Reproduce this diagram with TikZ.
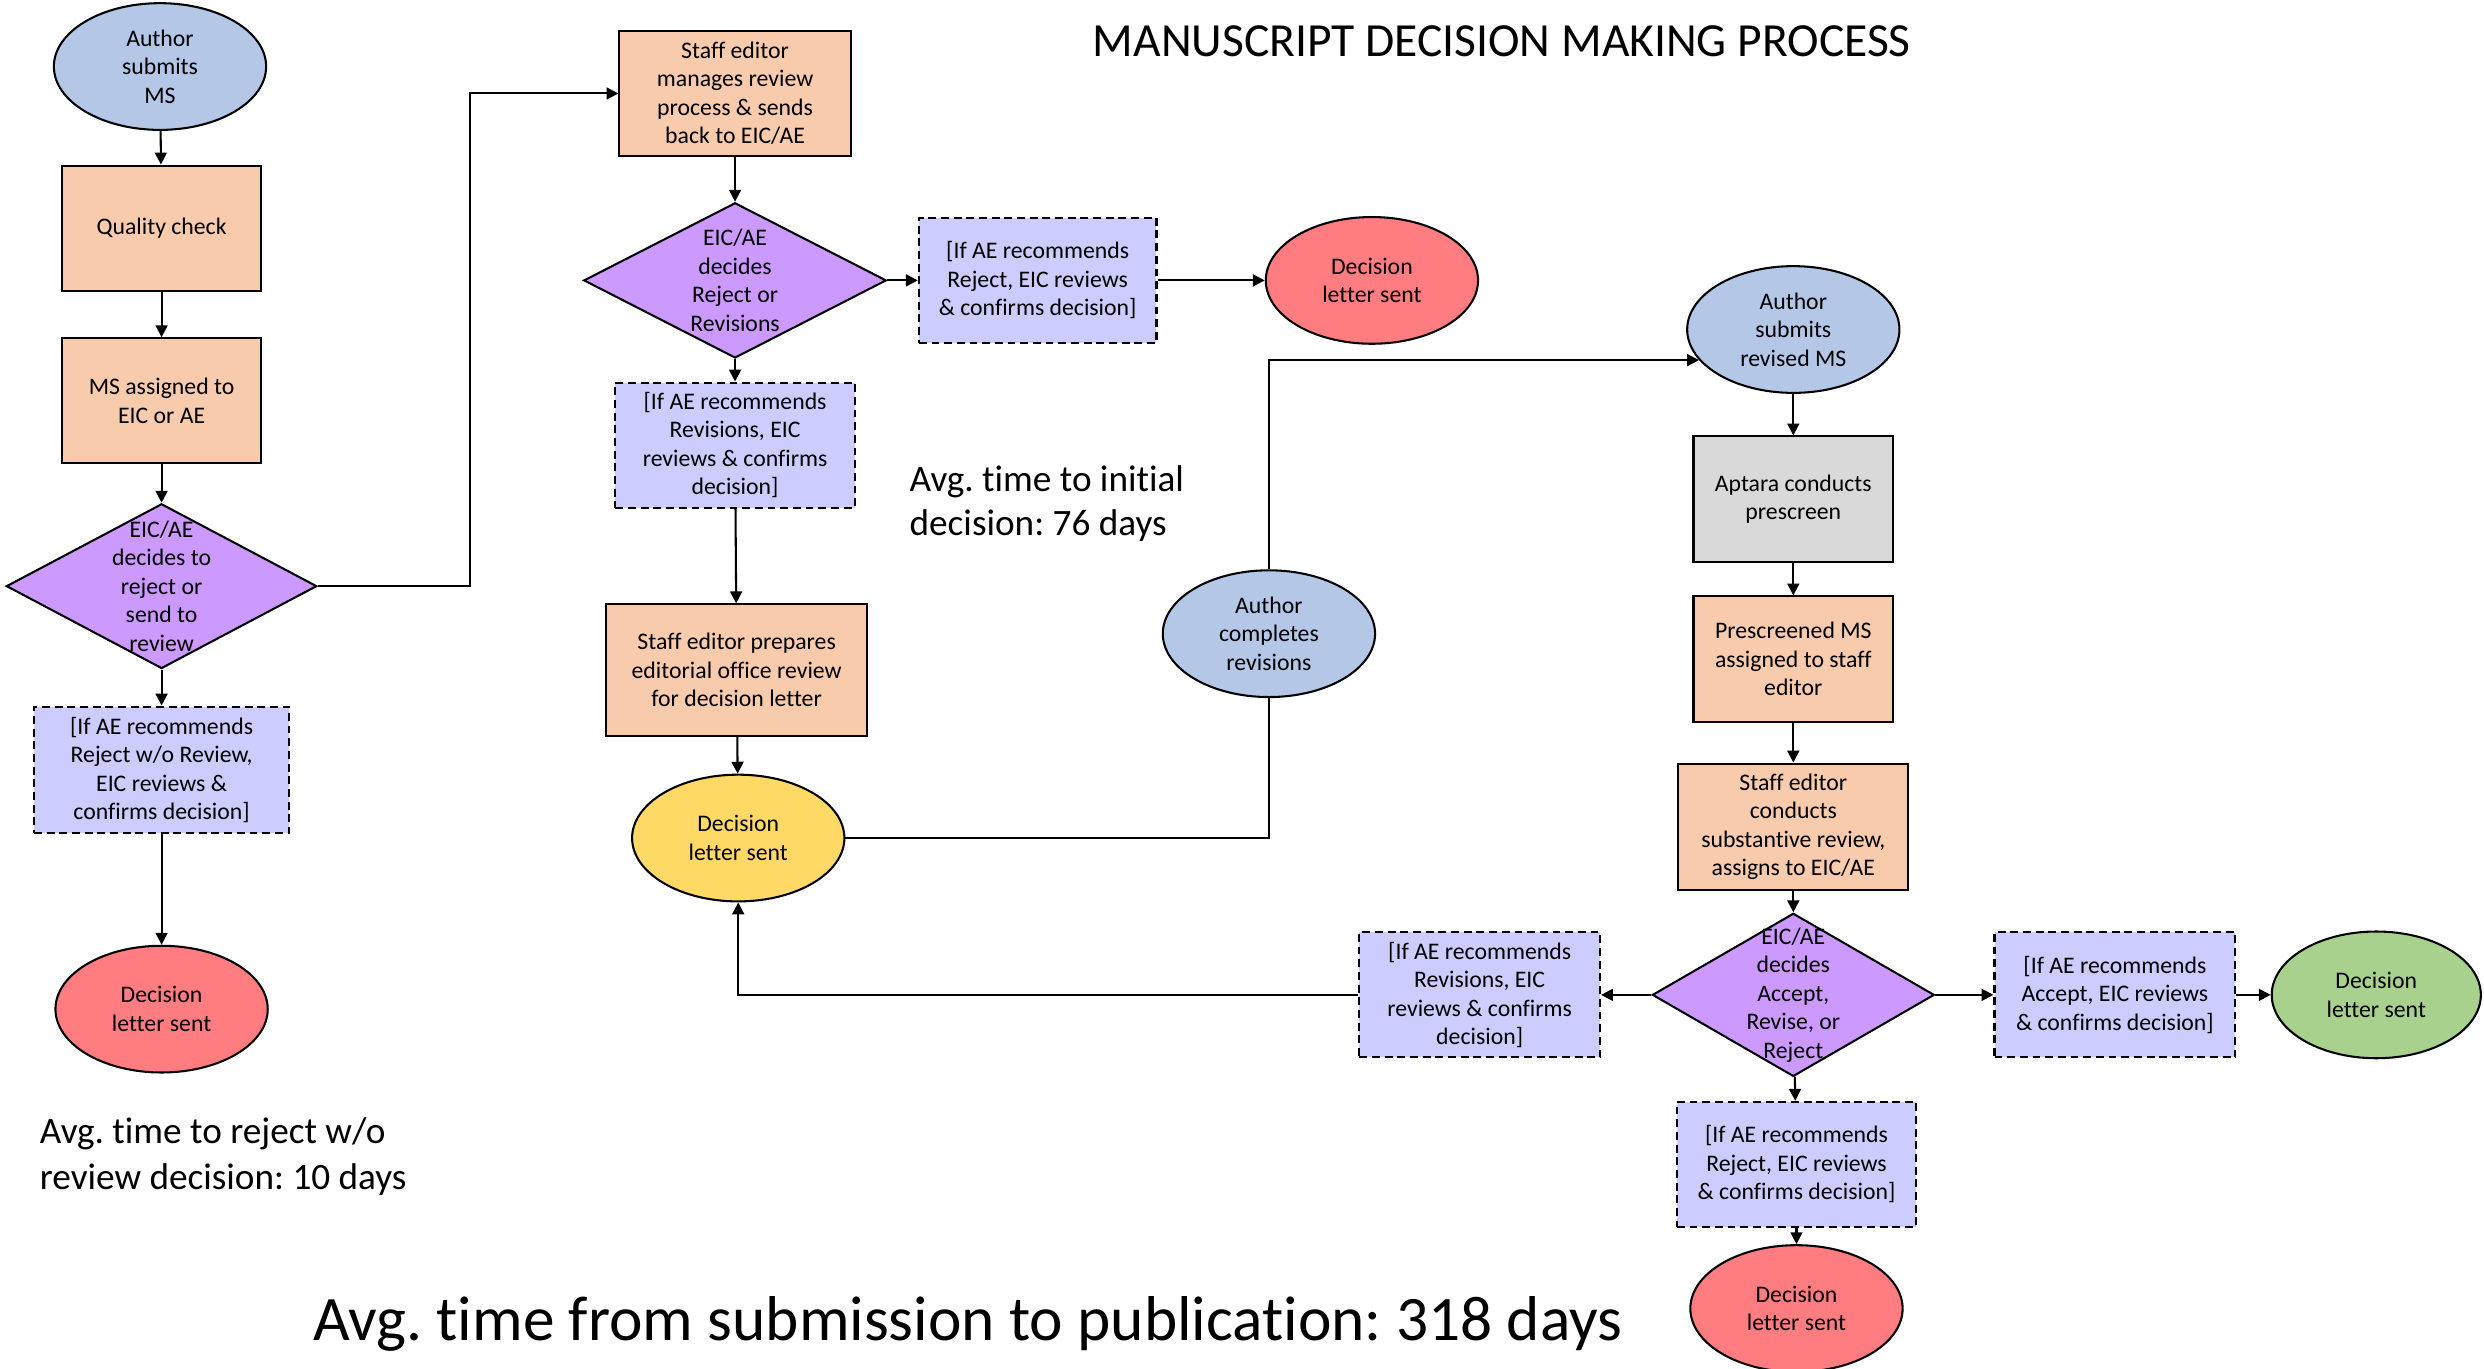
\documentclass[tikz,border=0pt]{standalone}
\usepackage{fontspec}
\setmainfont{Carlito}[Ligatures=NoCommon]
\frenchspacing
\usetikzlibrary{shapes.geometric}
\usetikzlibrary{arrows.meta}
\definecolor{authorblue}{HTML}{B4C7E7}
\definecolor{peach}{HTML}{F8CBAD}
\definecolor{violet}{HTML}{CC99FF}
\definecolor{lavender}{HTML}{CCCCFF}
\definecolor{rejectred}{HTML}{FF7C80}
\definecolor{letteryellow}{HTML}{FFD966}
\definecolor{acceptgreen}{HTML}{A9D18E}
\definecolor{prescreengrey}{HTML}{D9D9D9}
\tikzstyle{base}=[draw, line width=1.3pt, align=center, inner sep=0pt,
  font=\fontsize{15}{18}\selectfont]
\tikzstyle{process box}=[base, rectangle, fill=peach, minimum width=126pt, minimum height=79pt]
\tikzstyle{terminal}=[base, ellipse, minimum width=134pt, minimum height=80pt]
\tikzstyle{note box}=[base, rectangle, fill=lavender, dash pattern=on 5pt off 3pt,
  minimum width=151pt, minimum height=79pt]
\tikzstyle{decision}=[base, diamond, fill=violet]
\tikzstyle{decision text}=[align=center, font=\fontsize{15}{18}\selectfont, inner sep=0pt]
\tikzstyle{flow}=[line width=1.3pt, -{Triangle[length=7.5pt,width=7.5pt]}]
\tikzstyle{plain line}=[line width=1.3pt]
\tikzstyle{summary}=[align=left, anchor=west, inner sep=0pt]

\begin{document}
\begin{tikzpicture}[x=1pt, y=-1pt]
          \useasboundingbox (0, 0) rectangle (1568, 864);

          % first submission
          \node[terminal, fill=authorblue] (author) at (101, 42) {Author\\submits\\MS};
          \node[process box] (qcheck) at (102, 144) {Quality check};
          \node[process box] (assign) at (102, 253) {MS assigned to\\EIC or AE};
          \node[decision, minimum width=196pt, minimum height=104pt,
            label={[decision text]center:EIC/AE\\decides to\\reject or\\send to\\review}]
            (decide1) at (102, 370) {};
          \node[note box, minimum width=161pt, minimum height=80pt] (note1) at (102, 486)
            {[If AE recommends\\Reject w/o Review,\\EIC reviews \&\\confirms decision]};
          \node[terminal, fill=rejectred] (letter1) at (102, 637) {Decision\\letter sent};

          % review
          \node[process box, minimum width=146pt] (manage) at (464, 59)
            {Staff editor\\manages review\\process \& sends\\back to EIC/AE};
          \node[decision, minimum width=191pt, minimum height=98pt,
            label={[decision text]center:EIC/AE\\decides\\Reject or\\Revisions}]
            (decide2) at (464, 177) {};
          \node[note box, minimum width=150pt] (note2) at (655, 177)
            {[If AE recommends\\Reject, EIC reviews\\\& confirms decision]};
          \node[terminal, fill=rejectred] (letter2) at (866, 177) {Decision\\letter sent};
          \node[note box] (note3) at (464, 281)
            {[If AE recommends\\Revisions, EIC\\reviews \& confirms\\decision]};
          \node[process box, minimum width=165pt, minimum height=83pt] (prepare) at (465, 423)
            {Staff editor prepares\\editorial office review\\for decision letter};
          \node[terminal, fill=letteryellow] (letter3) at (466, 529) {Decision\\letter sent};

          % revision
          \node[terminal, fill=authorblue] (completes) at (801, 400) {Author\\completes\\revisions};
          \node[terminal, fill=authorblue] (revised) at (1132, 208) {Author\\submits\\revised MS};
          \node[process box, fill=prescreengrey] (aptara) at (1132, 315) {Aptara conducts\\prescreen};
          \node[process box] (prescreened) at (1132, 416) {Prescreened MS\\assigned to staff\\editor};
          \node[process box, minimum width=145pt, minimum height=80pt] (substantive) at (1132, 522)
            {Staff editor\\conducts\\substantive review,\\assigns to EIC/AE};
          \node[decision, minimum width=178pt, minimum height=103pt,
            label={[decision text]center:EIC/AE\\decides\\Accept,\\Revise, or\\Reject}]
            (decide3) at (1132, 628) {};
          \node[note box, minimum width=152pt] (note4) at (934, 628)
            {[If AE recommends\\Revisions, EIC\\reviews \& confirms\\decision]};
          \node[note box, minimum width=152pt] (note5) at (1335, 628)
            {[If AE recommends\\Accept, EIC reviews\\\& confirms decision]};
          \node[terminal, minimum width=132pt, fill=acceptgreen] (letter4) at (1500, 628) {Decision\\letter sent};
          \node[note box] (note6) at (1134, 735)
            {[If AE recommends\\Reject, EIC reviews\\\& confirms decision]};
          \node[terminal, fill=rejectred] (letter5) at (1134, 826) {Decision\\letter sent};

          % texts
          \node[font=\fontsize{30}{36}\selectfont] (title) at (948, 26) {MANUSCRIPT DECISION MAKING PROCESS};
          \node[summary, font=\fontsize{23.5}{29}\selectfont] (rejecttime) at (25, 730)
            {Avg. time to reject w/o\\review decision: 10 days};
          \node[summary, font=\fontsize{23.5}{28}\selectfont] (initialtime) at (574, 318)
            {Avg. time to initial\\decision: 76 days};
          \node[font=\fontsize{40}{48}\selectfont] (totaltime) at (611, 836)
            {Avg. time from submission to publication: 318 days};

          % connectors
          \draw[flow] (author) -- (qcheck);
          \draw[flow] (qcheck) -- (assign);
          \draw[flow] (assign) -- (decide1);
          \draw[flow] (decide1) -- (note1);
          \draw[flow] (note1) -- (letter1);
          \draw[flow] (decide1.east) -- ++(96, 0) |- (manage.west);
          \draw[flow] (manage) -- (decide2);
          \draw[flow] (decide2) -- (note2);
          \draw[flow] (note2) -- (letter2);
          \draw[flow] (decide2) -- (note3);
          \draw[flow] (note3) -- (prepare);
          \draw[flow] (prepare) -- (letter3);
          \draw[plain line] (letter3.east) -| (completes.south);
          \draw[flow] (completes.north) |- (revised.198);
          \draw[flow] (revised) -- (aptara);
          \draw[flow] (aptara) -- (prescreened);
          \draw[flow] (prescreened) -- (substantive);
          \draw[flow] (substantive) -- (decide3);
          \draw[flow] (decide3) -- (note4);
          \draw[flow] (note4.west) -| (letter3.south);
          \draw[flow] (decide3) -- (note5);
          \draw[flow] (note5) -- (letter4);
          \draw[flow] (decide3) -- (note6);
          \draw[flow] (note6) -- (letter5);
        \end{tikzpicture}
\end{document}
